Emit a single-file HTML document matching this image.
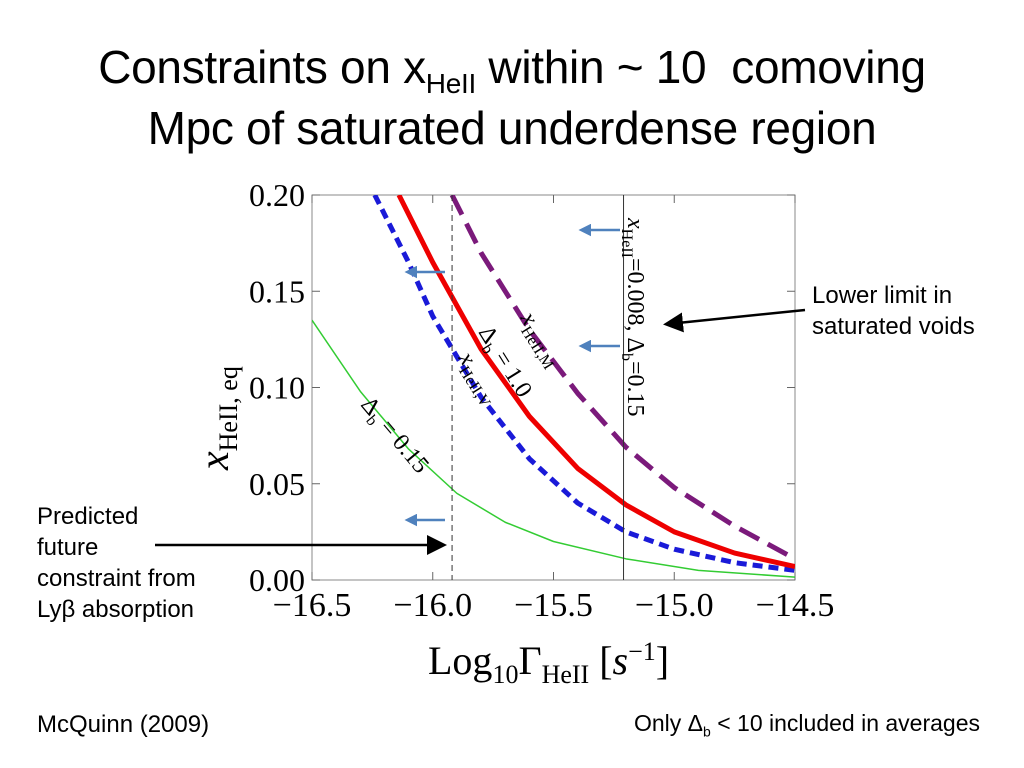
<!DOCTYPE html>
<html><head><meta charset="utf-8"><style>
body{margin:0;background:#fff;width:1024px;height:768px;overflow:hidden;font-family:"Liberation Sans",sans-serif}
.t{position:absolute;white-space:nowrap}
</style></head><body>
<div class="t" style="left:0;width:1024px;text-align:center;top:40px;font-size:46px;letter-spacing:-0.3px">Constraints on x<sub style="font-size:28px">HeII</sub> within ~ 10&nbsp; comoving</div>
<div class="t" style="left:0;width:1024px;text-align:center;top:101px;font-size:46px;letter-spacing:-0.3px">Mpc of saturated underdense region</div>
<div class="t" style="left:812px;top:280px;font-size:24px;line-height:31px">Lower limit in<br>saturated voids</div>
<div class="t" style="left:37px;top:501px;font-size:24px;line-height:31px">Predicted<br>future<br>constraint from<br>Lyβ absorption</div>
<div class="t" style="left:37px;top:711px;font-size:24px">McQuinn (2009)</div>
<div class="t" style="left:634px;top:710px;font-size:23px">Only Δ<sub style="font-size:14px">b</sub> &lt; 10 included in averages</div>
<svg id="chart" width="1024" height="768" style="position:absolute;left:0;top:0"></svg>
<script>
const xTicks=[-16.5,-16.0,-15.5,-15.0,-14.5];
const xTickLabels=["−16.5","−16.0","−15.5","−15.0","−14.5"];
const yTicks=[0,0.05,0.10,0.15,0.20];
const yTickLabels=["0.00","0.05","0.10","0.15","0.20"];
const blueX=[-16.24,-16.1,-16.0,-15.8,-15.6,-15.4,-15.2,-15.0,-14.75,-14.5];
const blueY=[0.20,0.165,0.137,0.095,0.063,0.040,0.025,0.016,0.009,0.005];
const redX=[-16.14,-16.0,-15.8,-15.6,-15.4,-15.2,-15.0,-14.75,-14.5];
const redY=[0.20,0.165,0.12,0.085,0.058,0.039,0.025,0.014,0.007];
const purpleX=[-15.92,-15.8,-15.6,-15.4,-15.2,-15.0,-14.75,-14.5];
const purpleY=[0.20,0.17,0.13,0.097,0.069,0.048,0.028,0.011];
const greenX=[-16.5,-16.3,-16.1,-15.9,-15.7,-15.5,-15.2,-14.9,-14.5];
const greenY=[0.135,0.098,0.068,0.045,0.030,0.020,0.011,0.005,0.0015];
const vDashed=-15.92, vSolid=-15.21;
const L=312,R=795,T=195,B=580;
const sx=v=>L+(v+16.5)/2*(R-L);
const sy=v=>B-v/0.2*(B-T);
const svg=document.getElementById('chart');
const NS='http://www.w3.org/2000/svg';
function mk(tag,attrs,name){const e=document.createElementNS(NS,tag);for(const k in attrs)e.setAttribute(k,attrs[k]);


svg.appendChild(e);return e;}
const defs=mk('defs',{},'defs');
defs.innerHTML='<clipPath id="cp"><rect x="312" y="195" width="483" height="385"/></clipPath><marker id="ab" markerWidth="5" markerHeight="5" refX="2" refY="2.5" orient="auto"><path d="M0,0 L5,2.5 L0,5 z" fill="#4f81bd"/></marker><marker id="ak" markerWidth="8" markerHeight="8" refX="6" refY="4" orient="auto"><path d="M0,0 L8,4 L0,8 z" fill="#000"/></marker>';
mk('rect',{x:L,y:T,width:R-L,height:B-T,fill:'none',stroke:'#888','stroke-width':1},'plot-frame');
xTicks.forEach((v,i)=>{
 mk('line',{x1:sx(v),x2:sx(v),y1:B,y2:B-8,stroke:'#666'},'x-tick');
 mk('line',{x1:sx(v),x2:sx(v),y1:T,y2:T+8,stroke:'#666'},'x-tick-top');
 const t=mk('text',{x:sx(v),y:616,'text-anchor':'middle','font-family':'Liberation Serif','font-size':34},'x-tick-label');t.textContent=xTickLabels[i];});
yTicks.forEach((v,i)=>{
 mk('line',{x1:L,x2:L+8,y1:sy(v),y2:sy(v),stroke:'#666'},'y-tick');
 mk('line',{x1:R,x2:R-8,y1:sy(v),y2:sy(v),stroke:'#666'},'y-tick-right');
 const t=mk('text',{x:305,y:sy(v)+11,'text-anchor':'end','font-family':'Liberation Serif','font-size':32},'y-tick-label');t.textContent=yTickLabels[i];});
const g=mk('g',{'clip-path':'url(#cp)'},'series-group');
function line(xs,ys,col,w,dash,name){const e=document.createElementNS(NS,'polyline');
 e.setAttribute('points',xs.map((x,i)=>sx(x)+','+sy(ys[i])).join(' '));
 e.setAttribute('fill','none');e.setAttribute('stroke',col);e.setAttribute('stroke-width',w);
 if(dash)e.setAttribute('stroke-dasharray',dash);e.setAttribute('stroke-linejoin','round');
 
 
 g.appendChild(e);}
line(greenX,greenY,'#3c3','1.5',null,'green-curve');
line(purpleX,purpleY,'#7b1a7b','5','22,10','purple-dashed-curve');
line(blueX,blueY,'#1a1ad8','5','10,6','blue-dashed-curve');
line(redX,redY,'#e00','5',null,'red-curve');
mk('line',{x1:sx(vDashed),x2:sx(vDashed),y1:T,y2:B,stroke:'#333','stroke-dasharray':'6,4'},'dashed-vertical-line');
mk('line',{x1:sx(vSolid),x2:sx(vSolid),y1:T,y2:B,stroke:'#333'},'solid-vertical-line');
[[620,230,586],[445,272,412],[620,346,586],[445,520,412]].forEach(a=>mk('line',{x1:a[0],y1:a[1],x2:a[2],y2:a[1],stroke:'#4f81bd','stroke-width':2.5,'marker-end':'url(#ab)'},'blue-arrow'));
mk('line',{x1:805,y1:310,x2:668,y2:324,stroke:'#000','stroke-width':2.5,'marker-end':'url(#ak)'},'lower-limit-arrow');
mk('line',{x1:155,y1:545,x2:442,y2:545,stroke:'#000','stroke-width':2.5,'marker-end':'url(#ak)'},'predicted-arrow');
function rt(x,y,ang,s,name,fs){const t=mk('text',{x:x,y:y,transform:`rotate(${ang} ${x} ${y})`,'font-family':'Liberation Serif','font-size':fs||24},name);t.innerHTML=s;}
rt(360,405,50,'Δ<tspan font-size="16" dy="6">b</tspan><tspan dy="-6"> = 0.15</tspan>','label-green');
rt(478,332,58,'Δ<tspan font-size="16" dy="6">b</tspan><tspan dy="-6"> = 1.0</tspan>','label-red');
rt(520,318,58,'<tspan font-style="italic">x</tspan><tspan font-size="16" dy="6">HeII,M</tspan>','label-purple');
rt(458,358,58,'<tspan font-style="italic">x</tspan><tspan font-size="16" dy="6">HeII,V</tspan>','label-blue');
rt(628,218,90,'<tspan font-style="italic">x</tspan><tspan font-size="16" dy="6">HeII</tspan><tspan dy="-6">=0.008, Δ</tspan><tspan font-size="16" dy="6">b</tspan><tspan dy="-6">=0.15</tspan>','label-vertical-line');
rt(228,470,-90,'<tspan font-style="italic">x</tspan><tspan font-size="26" dy="9">HeII, eq</tspan>','y-axis-title',42);
const xt=mk('text',{x:428,y:674,'font-family':'Liberation Serif','font-size':40},'x-axis-title');
xt.innerHTML='Log<tspan font-size="26" dy="9">10</tspan><tspan dy="-9">Γ</tspan><tspan font-size="26" dy="9">HeII</tspan><tspan dy="-9"> [</tspan><tspan font-style="italic">s</tspan><tspan font-size="26" dy="-14">−1</tspan><tspan dy="14">]</tspan>';
</script>
</body></html>
